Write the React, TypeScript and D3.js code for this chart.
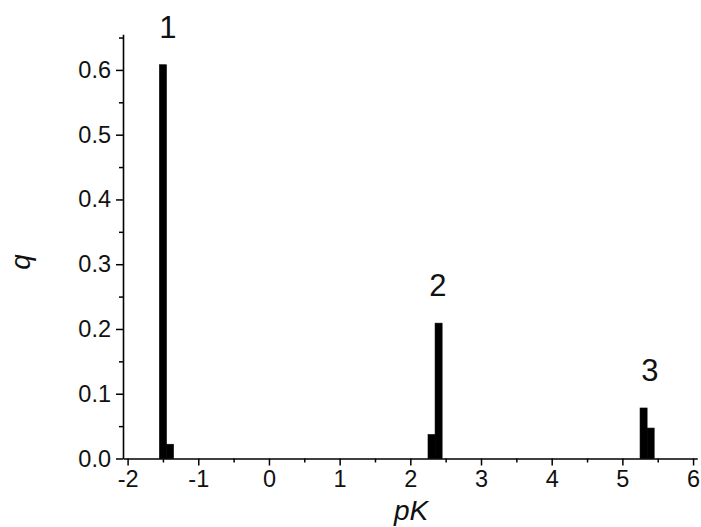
import React, { useEffect, useRef } from "react";
import * as d3 from "d3";

// pK bins (centres) and their fractions q
const pKValues = [-1.5, -1.4, 2.3, 2.4, 5.3, 5.4];
const qValues = [0.608, 0.022, 0.037, 0.209, 0.078, 0.047];
const binWidth = 0.1;

// peak numbers over the tall bars
const peakNames = ["1", "2", "3"];
const peakPK = [-1.43, 2.39, 5.39];
const peakQ = [0.608, 0.209, 0.078];

const xTicks = [-2, -1, 0, 1, 2, 3, 4, 5, 6];
const xMinor = [-1.5, -0.5, 0.5, 1.5, 2.5, 3.5, 4.5, 5.5];
const yTicks = [0, 0.1, 0.2, 0.3, 0.4, 0.5, 0.6];
const yMinor = [0.05, 0.15, 0.25, 0.35, 0.45, 0.55, 0.65];

const W = 701;
const H = 527;
const FONT = "'Liberation Sans', Arial, sans-serif";

const App = () => {
  const svgRef = useRef<SVGSVGElement>(null);

  useEffect(() => {
    const svg = d3.select(svgRef.current);
    svg.selectAll("*").remove();

    const x = d3.scaleLinear().domain([-2.065, 6.06]).range([123, 697.3]);
    const y = d3.scaleLinear().domain([0, 0.655]).range([458.5, 34.3]);

    // bars
    svg
      .append("g")
      .selectAll("rect")
      .data(pKValues)
      .join("rect")
      .attr("x", (d) => x(d - binWidth / 2))
      .attr("width", (d) => x(d + binWidth / 2) - x(d - binWidth / 2))
      .attr("y", (d, i) => y(qValues[i]))
      .attr("height", (d, i) => y(0) - y(qValues[i]))
      .attr("fill", "#000")
      .attr("stroke", "#000")
      .attr("stroke-width", 0.6);

    // x axis
    const gx = svg.append("g").attr("transform", `translate(0,${y(0)})`);
    gx.call(
      d3
        .axisBottom(x)
        .tickValues(xTicks)
        .tickSize(7)
        .tickSizeOuter(0)
        .tickPadding(5)
        .tickFormat((d) => String(d))
    );
    gx.append("g").call(
      d3.axisBottom(x).tickValues(xMinor).tickSize(4).tickFormat(() => "")
    ).select(".domain").remove();

    // y axis
    const gy = svg.append("g").attr("transform", `translate(${x.range()[0]},0)`);
    gy.call(
      d3
        .axisLeft(y)
        .tickValues(yTicks)
        .tickSize(7)
        .tickSizeOuter(0)
        .tickPadding(5)
        .tickFormat(d3.format(".1f"))
    );
    gy.append("g").call(
      d3.axisLeft(y).tickValues(yMinor).tickSize(4).tickFormat(() => "")
    ).select(".domain").remove();

    svg.selectAll(".domain").attr("stroke", "#000").attr("stroke-width", 1.6);
    svg.selectAll(".tick line").attr("stroke", "#000").attr("stroke-width", 1.5);
    svg
      .selectAll(".tick text")
      .attr("font-family", FONT)
      .attr("font-size", 23.5)
      .attr("fill", "#111");

    // peak numbers
    svg
      .append("g")
      .selectAll("text")
      .data(peakNames)
      .join("text")
      .attr("x", (d, i) => x(peakPK[i]))
      .attr("y", (d, i) => y(peakQ[i]) - 27)
      .attr("text-anchor", "middle")
      .attr("font-family", FONT)
      .attr("font-size", 31)
      .attr("fill", "#111")
      .text((d) => d);

    // axis titles
    svg
      .append("text")
      .attr("x", 411)
      .attr("y", 520)
      .attr("text-anchor", "middle")
      .attr("font-family", FONT)
      .attr("font-style", "italic")
      .attr("font-size", 28)
      .attr("fill", "#111")
      .text("pK");

    svg
      .append("text")
      .attr("transform", "translate(30,262) rotate(-90)")
      .attr("text-anchor", "middle")
      .attr("font-family", FONT)
      .attr("font-style", "italic")
      .attr("font-size", 28)
      .attr("fill", "#111")
      .text("q");
  }, []);

  return (
    <div style={{ position: "absolute", left: 0, top: 0 }}>
      <svg ref={svgRef} width={W} height={H} style={{ display: "block", background: "#fff" }} />
    </div>
  );
};

export default App;
